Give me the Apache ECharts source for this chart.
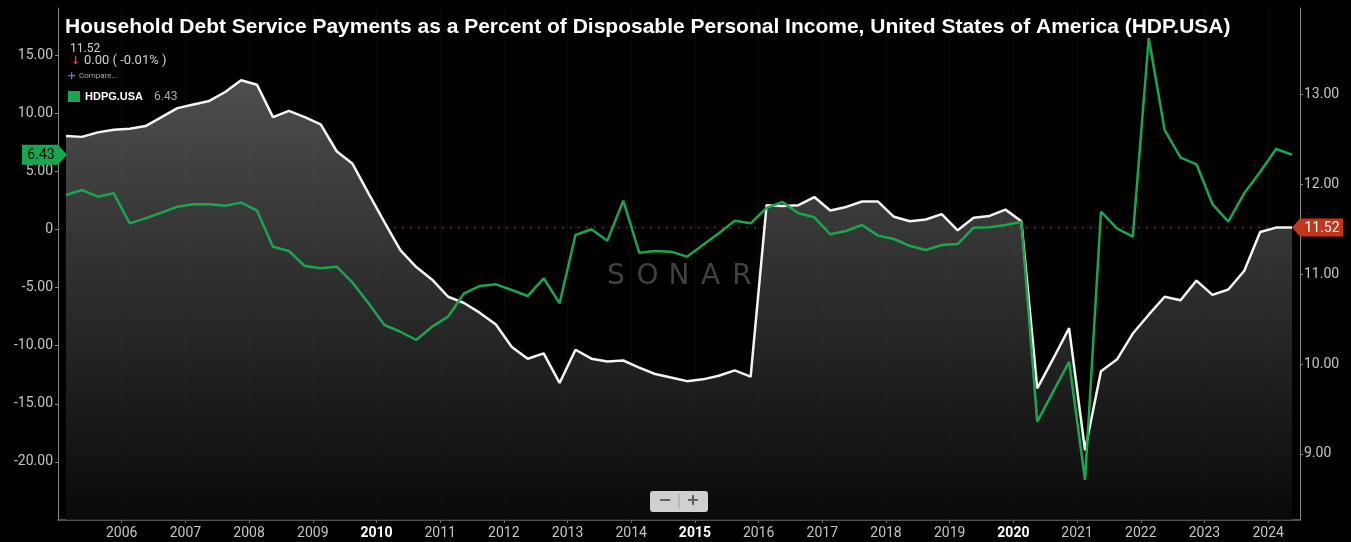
<!DOCTYPE html>
<html>
<head>
<meta charset="utf-8">
<title>Household Debt Service Payments (HDP.USA)</title>
<script src="https://cdn.jsdelivr.net/npm/echarts@6/dist/echarts.min.js"></script>
<style>
  html, body { margin: 0; padding: 0; background: #000; }
  #chart { width: 1351px; height: 542px; }
</style>
</head>
<body>
<div id="chart"></div>
<script>
// Quarterly series, first quarter 2005 Q1, last quarter 2024 Q2
const startYear = 2005;

// HDP.USA: debt service payments as % of disposable income (right axis)
const hdp = [
  12.54, 12.53, 12.58, 12.61, 12.62, 12.65, 12.75, 12.85, 12.89, 12.93, 13.03, 13.16,
  13.11, 12.75, 12.82, 12.75, 12.67, 12.37, 12.23, 11.90, 11.58, 11.27, 11.08, 10.94,
  10.75, 10.68, 10.57, 10.44, 10.19, 10.06, 10.12, 9.79, 10.16, 10.06, 10.03, 10.04,
  9.96, 9.89, 9.85, 9.81, 9.83, 9.87, 9.93, 9.86, 11.77, 11.76, 11.77, 11.86,
  11.71, 11.75, 11.81, 11.81, 11.64, 11.59, 11.61, 11.67, 11.49, 11.63, 11.65, 11.72,
  11.59, 9.73, 10.06, 10.40, 9.04, 9.92, 10.05, 10.34, 10.55, 10.75, 10.71, 10.93,
  10.77, 10.83, 11.04, 11.47, 11.52, 11.52
];

// HDPG.USA: year-over-year change of the same measure (left axis)
const hdpg = [
  2.97, 3.40, 2.82, 3.12, 0.53, 0.96, 1.45, 1.96, 2.17, 2.17, 2.05, 2.31,
  1.62, -1.48, -1.85, -3.14, -3.34, -3.20, -4.58, -6.35, -8.22, -8.80, -9.51, -8.36,
  -7.50, -5.49, -4.86, -4.72, -5.21, -5.72, -4.20, -6.35, -0.47, 0.02, -0.96, 2.48,
  -2.00, -1.85, -1.91, -2.34, -1.33, -0.33, 0.76, 0.53, 1.85, 2.37, 1.39, 1.05,
  -0.41, -0.13, 0.39, -0.53, -0.82, -1.42, -1.76, -1.33, -1.25, 0.15, 0.19, 0.39,
  0.67, -16.54, -13.96, -11.38, -21.56, 1.53, 0.10, -0.62, 16.48, 8.56, 6.18, 5.61,
  2.19, 0.67, 3.12, 4.97, 6.93, 6.43
];

// Year labels drawn in bold
const boldYears = [2010, 2015, 2020];

// Header readouts
const lastValue = '11.52';
const changeText = '0.00 ( -0.01% )';
const compareSymbol = 'HDPG.USA';
const compareValue = '6.43';
const titleText = 'Household Debt Service Payments as a Percent of Disposable Personal Income, United States of America (HDP.USA)';
const watermark = 'SONAR';

// Each quarter sits at its midpoint in decimal years
const quarterX = hdp.map((_, i) => startYear + i * 0.25 + 0.125);

const axisFont = 'Roboto, "Liberation Sans", sans-serif';
const labelGrey = '#c4c4c4';
const axisGrey = '#6c6c6c';

const chart = echarts.init(document.getElementById('chart'), null, { renderer: 'canvas' });

const option = {
  backgroundColor: '#000',
  animation: false,
  grid: {
    left: 58, right: 51, top: 8, bottom: 22,
    containLabel: false,
    outerBoundsMode: 'none'
  },
  xAxis: {
    type: 'value',
    min: 2005,
    max: 2024.5,
    interval: 1,
    axisLine: { show: true, onZero: false, lineStyle: { color: axisGrey, width: 1.5 } },
    axisTick: { show: true, length: 3, lineStyle: { color: axisGrey } },
    splitLine: { show: true, lineStyle: { color: 'rgba(255,255,255,0.045)', width: 1 } },
    axisLabel: {
      showMinLabel: false,
      showMaxLabel: false,
      margin: 6,
      color: labelGrey,
      fontFamily: axisFont,
      fontSize: 14,
      formatter: v => boldYears.includes(v) ? '{b|' + v + '}' : String(v),
      rich: {
        b: { color: '#ffffff', fontWeight: 'bold', fontFamily: axisFont, fontSize: 14 }
      }
    }
  },
  yAxis: [
    {
      type: 'value',
      position: 'left',
      min: -25,
      max: 19.06,
      interval: 5,
      axisLine: { show: true, onZero: false, lineStyle: { color: '#8a8a8a', width: 1 } },
      axisTick: { show: true, length: 3, lineStyle: { color: '#8a8a8a' } },
      splitLine: { show: false },
      axisLabel: {
        showMinLabel: false,
        showMaxLabel: false,
        margin: 5,
        color: labelGrey,
        fontFamily: axisFont,
        fontSize: 14,
        formatter: v => v === 0 ? '0' : v.toFixed(2)
      }
    },
    {
      type: 'value',
      position: 'right',
      min: 8.264,
      max: 13.965,
      splitNumber: 5,
      axisLine: { show: true, onZero: false, lineStyle: { color: '#8a8a8a', width: 1 } },
      axisTick: { show: true, length: 3, lineStyle: { color: '#8a8a8a' } },
      splitLine: { show: false },
      axisLabel: {
        showMinLabel: false,
        showMaxLabel: false,
        margin: 4,
        color: labelGrey,
        fontFamily: axisFont,
        fontSize: 14,
        formatter: v => v.toFixed(2)
      }
    }
  ],
  series: [
    {
      name: 'HDP.USA',
      type: 'line',
      yAxisIndex: 1,
      data: quarterX.map((x, i) => [x, hdp[i]]),
      showSymbol: false,
      symbol: 'none',
      z: 2,
      lineStyle: { color: '#f4f4f4', width: 2.5 },
      areaStyle: {
        origin: 'start',
        color: new echarts.graphic.LinearGradient(0, 0, 0, 1, [
          { offset: 0, color: '#6f6f6f' },
          { offset: 1, color: '#0d0d0d' }
        ])
      },
      markLine: {
        silent: true,
        symbol: 'none',
        z: 1,
        label: { show: false },
        emphasis: { disabled: true },
        lineStyle: { color: '#7a2c1b', type: [2, 6], width: 1.4, opacity: 1 },
        data: [{ yAxis: hdp[hdp.length - 1] }]
      }
    },
    {
      name: 'HDPG.USA',
      type: 'line',
      yAxisIndex: 0,
      data: quarterX.map((x, i) => [x, hdpg[i]]),
      showSymbol: false,
      symbol: 'none',
      z: 3,
      lineStyle: { color: '#19a64f', width: 2.5 }
    }
  ]
};

chart.setOption(option);

// Value tags on both axes, placed from the last data values
const yGreen = chart.convertToPixel({ yAxisIndex: 0 }, hdpg[hdpg.length - 1]);
const yWhite = chart.convertToPixel({ yAxisIndex: 1 }, hdp[hdp.length - 1]);

// Widely spaced watermark letters
const sonarLetters = watermark.split('').map((ch, k) => ({
  type: 'text',
  silent: true,
  z: 1,
  style: {
    x: 616 + k * 31.5,
    y: 277,
    text: ch,
    fill: '#414141',
    font: 'normal 28px "DejaVu Sans", sans-serif',
    align: 'center',
    verticalAlign: 'middle'
  }
}));

chart.setOption({
  graphic: [
    // title
    {
      type: 'text', z: 100,
      style: {
        x: 65, y: 27, text: titleText, fill: '#ffffff',
        font: 'bold 21px "Liberation Sans", Arial, sans-serif',
        verticalAlign: 'middle'
      }
    },
    // header readouts
    {
      type: 'text', z: 100,
      style: { x: 70, y: 49, text: lastValue, fill: '#d0d0d0', font: '12px Roboto, sans-serif', verticalAlign: 'middle' }
    },
    {
      type: 'text', z: 100,
      style: { x: 71, y: 61, text: '\u2193', fill: '#e0403a', font: 'bold 11px "DejaVu Sans", sans-serif', verticalAlign: 'middle' }
    },
    {
      type: 'text', z: 100,
      style: { x: 84, y: 61, text: changeText, fill: '#d0d0d0', font: '13px Roboto, sans-serif', verticalAlign: 'middle' }
    },
    {
      type: 'text', z: 100,
      style: { x: 67, y: 76, text: '+', fill: '#3d8ee8', font: 'bold 11px "DejaVu Sans", sans-serif', verticalAlign: 'middle' }
    },
    {
      type: 'text', z: 100,
      style: { x: 79, y: 76, text: 'Compare...', fill: '#a8a8a8', font: '8px Roboto, sans-serif', verticalAlign: 'middle' }
    },
    {
      type: 'rect', z: 100,
      shape: { x: 68, y: 91, width: 12, height: 11 },
      style: { fill: '#19a64f' }
    },
    {
      type: 'text', z: 100,
      style: { x: 85, y: 97, text: compareSymbol, fill: '#ffffff', font: 'bold 11px "Liberation Sans", Arial, sans-serif', verticalAlign: 'middle' }
    },
    {
      type: 'text', z: 100,
      style: { x: 154, y: 97, text: compareValue, fill: '#a8a8a8', font: '12px Roboto, sans-serif', verticalAlign: 'middle' }
    },
    // left tag for HDPG.USA
    {
      type: 'polygon', z: 100,
      shape: { points: [[22, yGreen - 10], [58, yGreen - 10], [67, yGreen], [58, yGreen + 10], [22, yGreen + 10]] },
      style: { fill: '#19a64f' }
    },
    {
      type: 'text', z: 101,
      style: { x: 41, y: yGreen + 1, text: compareValue, fill: '#0c0c0c', font: '14px Roboto, sans-serif', align: 'center', verticalAlign: 'middle' }
    },
    // right tag for HDP.USA
    {
      type: 'polygon', z: 100,
      shape: { points: [[1292, yWhite], [1300, yWhite - 9], [1343, yWhite - 9], [1343, yWhite + 9], [1300, yWhite + 9]] },
      style: { fill: '#c3361c' }
    },
    {
      type: 'text', z: 101,
      style: { x: 1322, y: yWhite + 1, text: lastValue, fill: '#ffffff', font: '14px Roboto, sans-serif', align: 'center', verticalAlign: 'middle' }
    },
    // zoom buttons
    {
      type: 'rect', z: 100,
      shape: { x: 650, y: 491, width: 58, height: 21, r: 3 },
      style: { fill: '#d0d0d0' }
    },
    {
      type: 'line', z: 101,
      shape: { x1: 679, y1: 494, x2: 679, y2: 509 },
      style: { stroke: '#a4a4a4', lineWidth: 1 }
    },
    {
      type: 'text', z: 101,
      style: { x: 665, y: 501, text: '\u2212', fill: '#555555', font: 'bold 16px "DejaVu Sans", sans-serif', align: 'center', verticalAlign: 'middle' }
    },
    {
      type: 'text', z: 101,
      style: { x: 693, y: 501, text: '+', fill: '#555555', font: 'bold 16px "DejaVu Sans", sans-serif', align: 'center', verticalAlign: 'middle' }
    }
  ].concat(sonarLetters)
});
</script>
</body>
</html>
